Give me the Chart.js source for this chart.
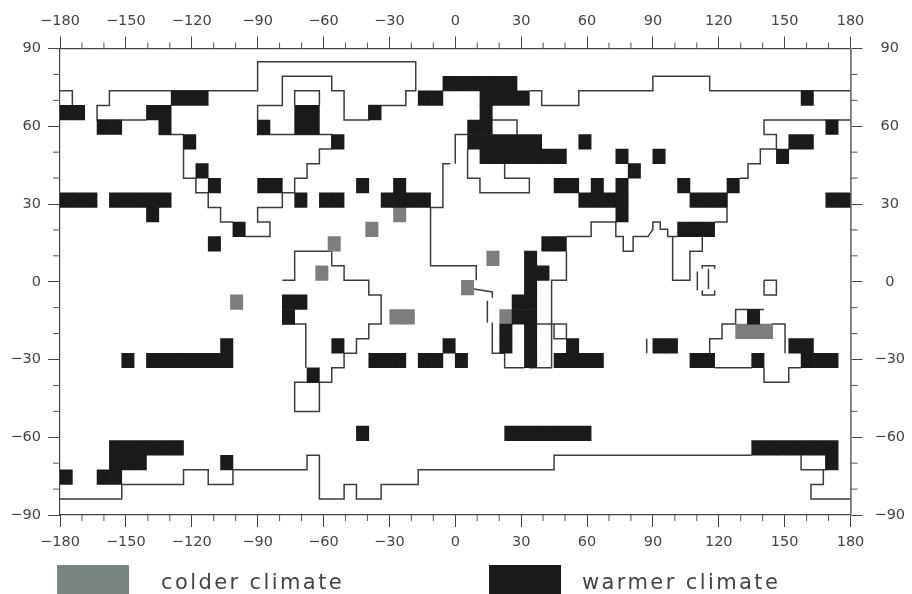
<!DOCTYPE html>
<html>
<head>
<meta charset="utf-8">
<style>
  html, body { margin: 0; padding: 0; background: #fff; }
  #wrap { width: 912px; height: 594px; }
</style>
<script src="https://cdn.jsdelivr.net/npm/chart.js@4/dist/chart.umd.min.js"></script>
</head>
<body>
<div id="wrap"><canvas id="climateMap" width="912" height="594"></canvas></div>
<script>
// model grid: 64 x 32 boxes of 5.625 deg, counted from -180 lon and 90 lat
const lonTicks = [-180, -150, -120, -90, -60, -30, 0, 30, 60, 90, 120, 150, 180];
const latTicks = [-90, -60, -30, 0, 30, 60, 90];
const legendLabels = ["colder climate", "warmer climate"];

// [row, first column, number of boxes]
const warmRuns = [
  [2,31,6],
  [3,9,3],[3,29,2],[3,34,4],[3,60,1],
  [4,0,2],[4,7,2],[4,19,2],[4,25,1],[4,34,1],
  [5,3,2],[5,8,1],[5,16,1],[5,19,2],[5,33,2],[5,62,1],
  [6,10,1],[6,22,1],[6,33,6],[6,42,1],[6,59,2],
  [7,34,7],[7,45,1],[7,48,1],[7,58,1],
  [8,11,1],[8,46,1],
  [9,12,1],[9,16,2],[9,24,1],[9,27,1],[9,40,2],[9,43,1],[9,45,1],[9,50,1],[9,54,1],
  [10,0,3],[10,4,5],[10,19,1],[10,21,2],[10,26,4],[10,42,4],[10,51,3],[10,62,2],
  [11,7,1],[11,45,1],
  [12,14,1],[12,50,3],
  [13,12,1],[13,39,2],
  [14,37.6,1],[15,37.6,2],[16,37.6,1],
  [17,18,2],[17,36.6,2],
  [18,18,1],[18,36.6,2],[18,55.65,1],
  [19,35.6,1],[19,37.6,1],
  [20,13,1],[20,22,1],[20,31,1],[20,35.6,1],[20,37.6,1],[20,41,1],[20,48,2],[20,59,2],
  [21,5,1],[21,7,7],[21,25,3],[21,29,2],[21,32,1],[21,37.6,1],[21,40,4],[21,51,2],[21,56,1],[21,60,3],
  [22,20,1],
  [26,24,1],[26,36,7],
  [27,4,6],[27,56,7],
  [28,4,3],[28,13,1],[28,62,1],
  [29,0,1],[29,3,2]
];

const coldRuns = [
  [11,27,1],[12,24.75,1],[13,21.7,1],[14,34.55,1],[15,20.7,1],[16,32.5,1],
  [17,13.8,1],[18,26.7,2],[18,35.6,1],[19,54.7,3]
];

// coast outline, [column, row] corners
const coastLines = [
  [[0,3],[1,3],[1,4]],
  [[19,4],[19,3],[21,3],[21,4]],
  [[8,6],[10,6],[10,9],[11,9],[11,10],[12,10],[12,11],[13,11],[13,12],[14,12]],
  [[15,13],[17,13],[17,12],[16,12],[16,11],[18,11],[18,10],[19,10],[19,9],[20,9],[20,8],[21,8],[21,7],[22,7],[22,6],
   [16,6],[16,4],[18,4],[18,2],[22,2],[22,3],[23,3],[23,5],[25,5],[25,4],[28,4],[28,3],[28.8,3],[28.8,1],[16,1],[16,3],
   [4,3],[4,4],[3,4],[3,5],[7,5]],
  [[38,3],[39,3],[39,4],[42,4],[42,3],[48,3],[48,2],[52.6,2],[52.6,3],[64,3]],
  [[64,5],[57,5],[57,6],[58,6],[58,7],[56.7,7],[56.7,8],[55.7,8],[55.7,9],[55,9]],
  [[54,10],[54,12],[53,12]],
  [[52,13],[52,14],[51,14],[51,16],[49.6,16],[49.6,13]],
  [[50,13],[49.2,13],[49.2,12.5],[48.6,12.5],[48.6,12],[48,12],[48,12.5],[47.6,13],[46.4,13],[46.4,14],[45.6,14],[45.6,13],
   [45,13],[45,12],[43,12],[43,13],[41,13]],
  [[41,14],[41,16],[39.8,16],[39.8,22],[38,22]],
  [[37.6,22],[36,22],[36,21],[35,21],[35,18.9]],
  [[34.6,18.9],[34.6,17.4]],
  [[35,17.2],[35,16.8],[33.5,16.6]],
  [[33.7,16],[33.7,15],[30,15],[30,11],[31,11],[31,8],[31.6,8]],
  [[32,8],[32,6],[33,6]],
  [[33,7],[33,9],[34,9],[34,10],[38,10],[38,9],[36,9],[36,8]],
  [[35,5],[37,5],[37,6]],
  [[38.6,19],[41,19],[41,20],[40,20],[40,19]],
  [[52,15.2],[52,15],[53,15],[53,15.2]],
  [[52,16.7],[52,17],[53,17],[53,16.7]],
  [[51.6,15.4],[51.6,16.7]],
  [[52.5,15.2],[52.5,16.6]],
  [[57,16],[58,16],[58,17],[57,17],[57,16]],
  [[57,18],[54.7,18],[54.7,19],[53.6,19],[53.6,20],[52.6,20],[52.6,21]],
  [[53,22],[56,22]],
  [[57,22],[57,23],[59,23],[59,22],[60,22]],
  [[57.6,19],[58.7,19],[58.7,21]],
  [[47.5,20],[47.5,21]],
  [[18,16],[19,16],[19,14],[22,14],[22,15],[23,15],[23,16],[25,16],[25,17],[26,17],[26,19],[25,19],[25,20],[24,20],[24,21],
   [23,21],[23,22],[22,22],[22,23],[19,23],[19,25],[21,25],[21,23]],
  [[18,19],[19.9,19],[19.9,22]],
  [[0,31],[5,31],[5,30],[10,30],[10,29],[12,29],[12,30],[14,30],[14,29],[20,29],[20,28],[21,28],[21,31],[23,31],[23,30],
   [24,30],[24,31],[26,31],[26,30],[29,30],[29,29],[40,29],[40,28],[56,28]],
  [[60,28],[60,29],[62,29],[62,28]],
  [[61.8,29],[61.8,30],[60.8,30],[60.8,31],[64,31]]
];

const BOX = 5.625;
const LAT_NUDGE = 0.55; // scan sits a little above the printed axis
const COLORS = { warm: "#1a1a1a", cold: "#7d7d7d", coast: "#3c3c3c", text: "#444", legendCold: "#7b857f" };

const lonOf = c => -180 + c * BOX;
const latOf = r => 90 - r * BOX + LAT_NUDGE;

const runsToBars = runs => {
  const bars = [];
  runs.forEach(([row, col, n]) => {
    for (let i = 0; i < n; i++) {
      bars.push({ x: lonOf(col + i + 0.5), y: [latOf(row + 1), latOf(row)] });
    }
  });
  return bars;
};

const tickLabel = v => (v < 0 ? "\u2212" + Math.abs(v) : String(v));
const tickFont = { family: "'DejaVu Sans', sans-serif", size: 14.5 };

const fixedSize = (key, px) => scale => { scale[key] = px; };

const axisBase = (pos, ticksList, size, extra, border) => ({
  type: "linear",
  position: pos,
  min: ticksList[0],
  max: ticksList[ticksList.length - 1],
  offset: false,
  border: Object.assign({ display: true, color: "#444", width: 1.2 }, border || {}),
  grid: { offset: false, drawOnChartArea: false, drawTicks: true, tickLength: 12, tickColor: "#444", tickWidth: 1 },
  ticks: Object.assign({
    stepSize: 30,
    autoSkip: false,
    maxRotation: 0,
    padding: 7,
    color: COLORS.text,
    font: tickFont,
    callback: tickLabel
  }, extra || {}),
  afterFit: fixedSize(pos === "left" || pos === "right" ? "width" : "height", size)
});

// short 10 degree ticks and the legend block below the map
const mapExtras = {
  id: "mapExtras",
  afterDraw(chart) {
    const { ctx, scales } = chart;
    ctx.save();
    ctx.strokeStyle = "#555";
    ctx.lineWidth = 1;
    [["x", 1, 1], ["xTop", 1, -1], ["y", 0, -1], ["yRight", 0, 1]].forEach(([id, horizontal, dir]) => {
      const s = scales[id];
      for (let v = s.min; v <= s.max; v += 10) {
        if (v % 30 === 0) continue;
        const p = s.getPixelForValue(v);
        ctx.beginPath();
        if (horizontal) {
          const base = dir > 0 ? s.top : s.bottom;
          ctx.moveTo(p, base);
          ctx.lineTo(p, base + dir * 6);
        } else {
          const base = dir > 0 ? s.left : s.right;
          ctx.moveTo(base, p);
          ctx.lineTo(base + dir * 7, p);
        }
        ctx.stroke();
      }
    });

    ctx.fillStyle = COLORS.legendCold;
    ctx.fillRect(57, 565, 72, 29);
    ctx.fillStyle = COLORS.warm;
    ctx.fillRect(489, 565, 72, 29);

    ctx.fillStyle = COLORS.text;
    ctx.font = "21px 'DejaVu Sans', sans-serif";
    ctx.textBaseline = "alphabetic";
    ctx.letterSpacing = "2.4px";
    ctx.fillText(legendLabels[0], 161, 589);
    ctx.fillText(legendLabels[1], 582, 589);
    ctx.restore();
  }
};

new Chart(document.getElementById("climateMap"), {
  type: "bar",
  data: {
    datasets: [
      {
        label: legendLabels[1],
        data: runsToBars(warmRuns),
        backgroundColor: COLORS.warm,
        barThickness: 12.35,
        grouped: false,
        borderWidth: 0,
        order: 1
      },
      {
        label: legendLabels[0],
        data: runsToBars(coldRuns),
        backgroundColor: COLORS.cold,
        barThickness: 12.35,
        grouped: false,
        borderWidth: 0,
        order: 2
      }
    ].concat(coastLines.map((line, i) => ({
      type: "line",
      label: "coast " + i,
      data: line.map(([c, r]) => ({ x: lonOf(c), y: latOf(r) })),
      borderColor: COLORS.coast,
      borderWidth: 1.5,
      pointRadius: 0,
      tension: 0,
      fill: false,
      order: 3
    })))
  },
  options: {
    responsive: false,
    animation: false,
    layout: { padding: 0 },
    plugins: { legend: { display: false }, tooltip: { enabled: false } },
    scales: {
      x: axisBase("bottom", lonTicks, 79),
      xTop: axisBase("top", lonTicks, 48.5),
      y: axisBase("left", latTicks, 60),
      yRight: axisBase("right", latTicks, 61.5, { crossAlign: "center", padding: 12 }, { color: "#777", width: 1.8 })
    }
  },
  plugins: [mapExtras]
});
</script>
</body>
</html>
